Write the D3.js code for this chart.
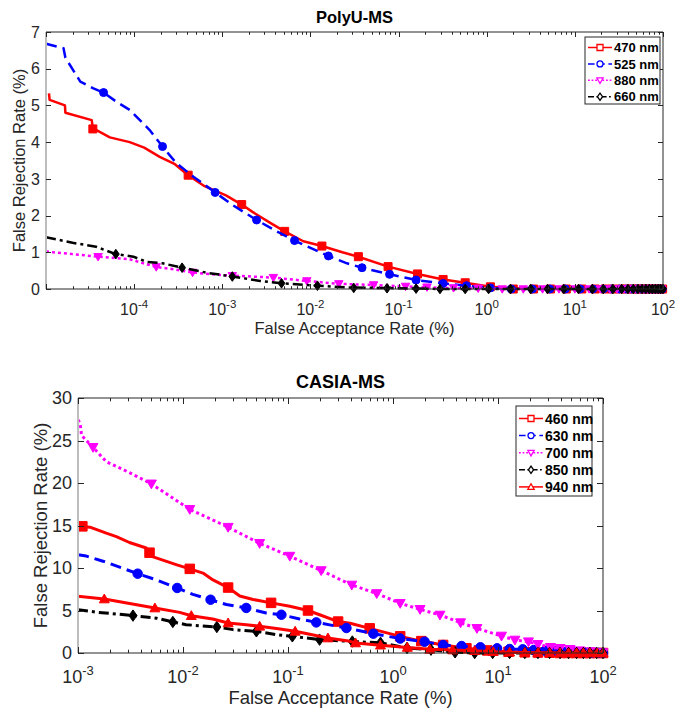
<!DOCTYPE html>
<html lang="en">
<head>
  <meta charset="UTF-8">
  <title>PolyU-MS / CASIA-MS</title>
  <style>
    body { margin: 0; background: #fff; }
    svg { display: block; font-family: "Liberation Sans", Arial, sans-serif; }
  </style>
</head>
<body>
  <script src="https://cdn.jsdelivr.net/npm/d3@7/dist/d3.min.js"></script>
  <script>
    // ---------- data: [FAR %, FRR %] ----------
    // PolyU-MS
    let polyuNames = ["470 nm", "525 nm", "880 nm", "660 nm"];
    let polyu470 = [[1.08e-5,5.33],[1.1e-5,5.15],[1.64e-5,5.0],[1.66e-5,4.8],[3.3e-5,4.6],[3.4e-5,4.38],[5.3e-5,4.13],[8.9e-5,4.0],[1.3e-4,3.85],[1.95e-4,3.6],[2.9e-4,3.4],[4.1e-4,3.1],[6.3e-4,2.8],[1.1e-3,2.55],[1.66e-3,2.3],[2.2e-3,2.1],[3.5e-3,1.8],[5.1e-3,1.57],[8.3e-3,1.3],[1.35e-2,1.17],[2.3e-2,1.0],[3.5e-2,0.88],[7.6e-2,0.61],[0.164,0.41],[0.32,0.26],[0.57,0.17],[1.1,0.06],[2,0.02],[5,0],[100,0]];
    let polyu470Marks = [[3.4e-5,4.36],[4.1e-4,3.1],[1.66e-3,2.3],[5.1e-3,1.57],[1.35e-2,1.17],[3.5e-2,0.88],[7.6e-2,0.61],[0.164,0.41],[0.32,0.26],[0.57,0.17],[1.1,0.06],[2,0],[3.4,0],[5.3,0],[8,0],[12,0],[17,0],[22,0],[27,0],[33,0],[39,0],[45,0],[51,0],[57,0],[63,0],[69,0],[75,0],[81,0],[87,0],[93,0],[99,0]];
    let polyu525 = [[1e-5,6.68],[1.58e-5,6.56],[1.66e-5,6.3],[2.45e-5,5.65],[3.4e-5,5.47],[4.5e-5,5.35],[6.3e-5,5.1],[8.9e-5,4.88],[1.5e-4,4.33],[2.1e-4,3.88],[3e-4,3.43],[4.7e-4,3.06],[8.3e-4,2.63],[1.3e-3,2.29],[2.45e-3,1.88],[4.2e-3,1.56],[6.6e-3,1.32],[1.6e-2,0.9],[2.6e-2,0.7],[3.85e-2,0.58],[7.9e-2,0.4],[0.158,0.245],[0.32,0.15],[0.59,0.09],[1.1,0.03],[2,0.01],[5,0],[100,0]];
    let polyu525Marks = [[4.5e-5,5.35],[2.1e-4,3.88],[8.3e-4,2.63],[2.45e-3,1.88],[6.6e-3,1.32],[1.6e-2,0.9],[3.85e-2,0.58],[7.9e-2,0.4],[0.158,0.245],[0.32,0.15],[0.59,0.09],[1.1,0.03],[1.9,0],[3.3,0],[5.2,0],[7.8,0],[11.5,0],[16,0],[21,0],[26,0],[32,0],[38,0],[44,0],[50,0],[56,0],[62,0],[68,0],[74,0],[80,0],[86,0],[92,0],[98,0]];
    let polyu880 = [[1e-5,1.02],[2e-5,0.95],[3.9e-5,0.88],[8.9e-5,0.81],[1.78e-4,0.6],[2.8e-4,0.54],[4.6e-4,0.45],[1e-3,0.38],[3.8e-3,0.31],[9.1e-3,0.22],[2.1e-2,0.14],[5.2e-2,0.11],[0.12,0.07],[0.3,0.03],[1,0.01],[3,0],[100,0]];
    let polyu880Marks = [[3.9e-5,0.88],[1.78e-4,0.6],[4.6e-4,0.45],[1.3e-3,0.36],[3.8e-3,0.31],[9.1e-3,0.22],[2.1e-2,0.14],[5.2e-2,0.11],[0.12,0.07],[0.21,0.05],[0.42,0.03],[0.8,0.02],[1.5,0],[2.6,0],[4.3,0],[6.6,0],[10,0],[14.5,0],[19.5,0],[25,0],[30,0],[36,0],[42,0],[48,0],[54,0],[60,0],[66,0],[72,0],[78,0],[84,0],[90,0],[96,0]];
    let polyu660 = [[1e-5,1.41],[2e-5,1.26],[3.7e-5,1.15],[6.2e-5,0.95],[9.8e-5,0.88],[1.38e-4,0.74],[2.1e-4,0.7],[3.5e-4,0.58],[6.8e-4,0.44],[1.3e-3,0.34],[2.7e-3,0.22],[4.7e-3,0.155],[1.2e-2,0.09],[2.6e-2,0.045],[0.1,0.02],[0.3,0],[100,0]];
    let polyu660Marks = [[6.2e-5,0.95],[3.5e-4,0.58],[1.3e-3,0.34],[4.7e-3,0.155],[1.2e-2,0.09],[3.1e-2,0.03],[7.4e-2,0.02],[0.158,0.01],[0.295,0],[0.57,0],[1.05,0],[1.86,0],[3.16,0],[4.9,0],[7.5,0],[11,0],[15.8,0],[21,0],[27,0],[34,0],[40,0],[46,0],[52,0],[58,0],[64,0],[70,0],[76,0],[82,0],[88,0],[94,0],[100,0]];

    // CASIA-MS
    let casiaNames = ["460 nm", "630 nm", "700 nm", "850 nm", "940 nm"];
    let casia460 = [[1e-3,14.9],[1.3e-3,14.8],[1.86e-3,14.1],[2.32e-3,13.7],[3.09e-3,13.0],[4.47e-3,12.35],[4.8e-3,11.8],[5.2e-3,11.3],[8.6e-3,10.4],[1.16e-2,9.9],[1.55e-2,9.4],[1.93e-2,8.6],[2.69e-2,7.7],[3.47e-2,6.7],[4.65e-2,6.3],[6.9e-2,5.9],[0.104,5.5],[0.155,5.0],[0.2,4.5],[0.3,3.7],[0.39,3.5],[0.6,2.9],[1.17,1.96],[1.86,1.4],[3.0,0.95],[5,0.55],[7.9,0.3],[12.6,0.15],[25,0.05],[50,0],[100,0]];
    let casia460Marks = [[1.1e-3,14.9],[4.8e-3,11.8],[1.16e-2,9.9],[2.69e-2,7.7],[6.9e-2,5.9],[0.155,5.0],[0.3,3.7],[0.6,2.9],[1.17,1.96],[1.86,1.4],[3.0,0.95],[5,0.55],[7.9,0.3],[12.6,0.15],[18,0.08],[24,0.05],[31,0.03],[39,0],[47,0],[56,0],[65,0],[75,0],[88,0],[100,0]];
    let casia630 = [[1e-3,11.55],[1.2e-3,11.4],[1.73e-3,10.8],[3.7e-3,9.33],[5.6e-3,8.6],[8.8e-3,7.65],[1.24e-2,6.9],[1.83e-2,6.27],[2.59e-2,5.7],[4e-2,5.3],[6.2e-2,4.7],[8.65e-2,4.5],[0.129,4.0],[0.186,3.6],[0.36,2.94],[0.65,2.27],[1.17,1.7],[2.0,1.33],[3.0,0.94],[4.5,0.82],[6.8,0.67],[9.8,0.55],[12.9,0.47],[17.2,0.43],[21.9,0.35],[28,0.27],[36,0.24],[45,0.16],[63,0.05],[100,0]];
    let casia630Marks = [[3.7e-3,9.33],[8.8e-3,7.65],[1.83e-2,6.27],[4e-2,5.3],[8.65e-2,4.5],[0.186,3.6],[0.36,2.94],[0.65,2.27],[1.17,1.7],[2.0,1.33],[3.0,0.94],[4.5,0.82],[6.8,0.67],[9.8,0.55],[12.9,0.47],[17.2,0.43],[21.9,0.35],[28,0.27],[36,0.24],[45,0.16],[55,0.1],[66,0.06],[78,0.03],[90,0.01],[100,0]];
    let casia700 = [[1e-3,27.45],[1.05e-3,27.0],[1.08e-3,25.6],[1.39e-3,24.2],[1.86e-3,22.5],[3e-3,21.3],[5e-3,19.9],[1.16e-2,16.9],[2.69e-2,14.8],[5.37e-2,12.9],[0.104,11.4],[0.207,9.7],[0.405,8.0],[0.7,7.0],[1.17,5.85],[1.81,5.14],[2.8,4.47],[4.4,3.57],[6.3,2.9],[10.8,2.0],[14.5,1.53],[19.5,1.33],[24,1.02],[31.6,0.67],[39,0.55],[48.5,0.43],[60,0.27],[78,0.16],[100,0.04]];
    let casia700Marks = [[1.39e-3,24.2],[5e-3,19.9],[1.16e-2,16.9],[2.69e-2,14.8],[5.37e-2,12.9],[0.104,11.4],[0.207,9.7],[0.405,8.0],[0.7,7.0],[1.17,5.85],[1.81,5.14],[2.8,4.47],[4.4,3.57],[6.3,2.9],[10.8,2.0],[14.5,1.53],[19.5,1.33],[24,1.02],[31.6,0.67],[39,0.55],[48.5,0.43],[60,0.27],[78,0.16],[100,0.04]];
    let casia850 = [[1e-3,5.1],[1.5e-3,4.8],[3.34e-3,4.4],[5.6e-3,4.1],[8e-3,3.65],[1.07e-2,3.33],[2.1e-2,3.06],[3e-2,2.75],[5e-2,2.55],[7.8e-2,2.16],[0.11,1.96],[0.15,1.76],[0.2,1.57],[0.41,1.35],[0.76,1.2],[1.36,0.59],[2.3,0.39],[3.9,0.08],[6,0],[100,0]];
    let casia850Marks = [[3.34e-3,4.4],[8e-3,3.65],[2.1e-2,3.06],[5e-2,2.55],[0.11,1.96],[0.2,1.57],[0.41,1.35],[0.76,1.2],[1.36,0.59],[2.3,0.39],[3.9,0.08],[6,0],[8.9,0],[12.9,0],[18,0],[24,0],[31,0],[39,0],[47,0],[56,0],[65,0],[75,0],[87,0],[100,0]];
    let casia940 = [[1e-3,6.67],[1.78e-3,6.35],[3.3e-3,5.76],[5.4e-3,5.29],[9.3e-3,4.78],[1.2e-2,4.39],[1.92e-2,4.0],[2.69e-2,3.53],[4e-2,3.33],[5.37e-2,3.14],[8.4e-2,2.82],[0.117,2.55],[0.24,1.76],[0.39,1.37],[0.44,1.18],[0.76,0.92],[1.37,0.65],[2.24,0.43],[3.7,0.35],[6,0.27],[9,0.16],[12.9,0.1],[18,0.06],[24,0.04],[31,0.02],[39,0],[100,0]];
    let casia940Marks = [[1.78e-3,6.35],[5.4e-3,5.29],[1.2e-2,4.39],[2.69e-2,3.53],[5.37e-2,3.14],[0.117,2.55],[0.24,1.76],[0.44,1.18],[0.76,0.92],[1.37,0.65],[2.24,0.43],[3.7,0.35],[6,0.27],[9,0.16],[12.9,0.1],[18,0.06],[24,0.04],[31,0.02],[39,0],[47,0],[56,0],[65,0],[75,0],[88,0],[100,0]];

    let polyuYTicks = [0, 1, 2, 3, 4, 5, 6, 7];
    let polyuXTicks = [-4, -3, -2, -1, 0, 1, 2];      // exponents labelled
    let casiaYTicks = [0, 5, 10, 15, 20, 25, 30];
    let casiaXTicks = [-3, -2, -1, 0, 1, 2];

    // ---------- styles ----------
    let styles = {
      red:  { color: "#ff0000", dash: null },
      blue: { color: "#0000ff", dash: "11,6" },
      mag:  { color: "#ff00ff", dash: "3,3" },
      blk:  { color: "#000000", dash: "10,4,3,4" }
    };

    let width = 686, height = 709;
    let svg = d3.select("body").append("svg")
      .attr("width", width)
      .attr("height", height);

    let axisColor = "#262626";

    function symbolPath(shape, size) {
      let s = size / 2;
      if (shape == "square") return `M${-s},${-s}H${s}V${s}H${-s}Z`;
      if (shape == "circle") return `M${-s},0A${s},${s} 0 1,0 ${s},0A${s},${s} 0 1,0 ${-s},0Z`;
      if (shape == "tdown") return `M${-s * 1.05},${-s * 0.8}H${s * 1.05}L0,${s * 1.05}Z`;
      if (shape == "tup") return `M${-s * 1.05},${s * 0.8}H${s * 1.05}L0,${-s * 1.05}Z`;
      if (shape == "diamond") return `M0,${-s * 1.2}L${s * 0.85},0L0,${s * 1.2}L${-s * 0.85},0Z`;
    }

    function drawPanel(p) {
      let x = d3.scaleLog().domain(p.xDomain).range([p.left, p.right]);
      let y = d3.scaleLinear().domain(p.yDomain).range([p.bottom, p.top]);
      let g = svg.append("g");

      // series
      let line = d3.line().x(d => x(d[0])).y(d => y(d[1]));
      p.series.forEach(s => {
        g.append("path")
          .datum(s.data)
          .attr("d", line)
          .attr("fill", "none")
          .attr("stroke", s.style.color)
          .attr("stroke-width", p.lw)
          .attr("stroke-dasharray", s.style.dash)
          .attr("stroke-linejoin", "round");
        g.selectAll(null)
          .data(s.marks)
          .enter()
          .append("path")
          .attr("transform", d => `translate(${x(d[0])},${y(d[1])})`)
          .attr("d", symbolPath(s.shape, p.ms))
          .attr("fill", s.style.color)
          .attr("stroke", s.style.color)
          .attr("stroke-width", 1);
      });

      // box
      g.append("line").attr("x1", p.left).attr("x2", p.right).attr("y1", p.top).attr("y2", p.top).attr("stroke", axisColor);
      g.append("line").attr("x1", p.right).attr("x2", p.right).attr("y1", p.top).attr("y2", p.bottom).attr("stroke", axisColor);
      g.append("line").attr("x1", p.left).attr("x2", p.right).attr("y1", p.bottom).attr("y2", p.bottom).attr("stroke", axisColor);
      g.append("line").attr("x1", p.left).attr("x2", p.left).attr("y1", p.top).attr("y2", p.bottom).attr("stroke", "#bdbdbd").attr("stroke-width", 2);

      // y ticks (inward on left and right)
      p.yTicks.forEach(v => {
        let yy = Math.round(y(v)) + 0.5;
        g.append("line").attr("x1", p.left).attr("x2", p.left + p.tick).attr("y1", yy).attr("y2", yy).attr("stroke", axisColor);
        g.append("line").attr("x1", p.right).attr("x2", p.right - p.tick).attr("y1", yy).attr("y2", yy).attr("stroke", axisColor);
        g.append("text")
          .attr("x", p.left - 6)
          .attr("y", y(v))
          .attr("dy", "0.36em")
          .attr("text-anchor", "end")
          .attr("font-size", p.tickFont)
          .attr("fill", axisColor)
          .text(v);
      });

      // x ticks: majors and minors from the log scale
      let allTicks = x.ticks();
      allTicks.forEach(v => {
        let e = Math.log10(v);
        let major = Math.abs(e - Math.round(e)) < 1e-9;
        let len = major ? p.tick : p.tick * 0.55;
        let xx = Math.round(x(v)) + 0.5;
        g.append("line").attr("x1", xx).attr("x2", xx).attr("y1", p.bottom).attr("y2", p.bottom - len).attr("stroke", axisColor);
        g.append("line").attr("x1", xx).attr("x2", xx).attr("y1", p.top).attr("y2", p.top + len).attr("stroke", axisColor);
      });
      p.xTicks.forEach(e => {
        let t = g.append("text")
          .attr("x", x(Math.pow(10, e)))
          .attr("y", p.bottom + p.xLabelDy)
          .attr("text-anchor", "middle")
          .attr("font-size", p.tickFont)
          .attr("fill", axisColor);
        t.append("tspan").text("10");
        t.append("tspan").attr("dy", -p.tickFont * 0.45).attr("font-size", p.tickFont * 0.72).text(e);
      });

      // title and axis labels
      g.append("text")
        .attr("x", (p.left + p.right) / 2)
        .attr("y", p.titleY)
        .attr("text-anchor", "middle")
        .attr("font-weight", "bold")
        .attr("font-size", p.titleFont)
        .attr("fill", "#000")
        .text(p.title);
      g.append("text")
        .attr("x", (p.left + p.right) / 2)
        .attr("y", p.xTitleY)
        .attr("text-anchor", "middle")
        .attr("font-size", p.labelFont)
        .attr("fill", axisColor)
        .text("False Acceptance Rate (%)");
      g.append("text")
        .attr("transform", `translate(${p.yTitleX},${(p.top + p.bottom) / 2}) rotate(-90)`)
        .attr("text-anchor", "middle")
        .attr("font-size", p.labelFont)
        .attr("fill", axisColor)
        .text("False Rejection Rate (%)");

      // legend
      let L = p.legend;
      g.append("rect")
        .attr("x", L.x).attr("y", L.y)
        .attr("width", L.w).attr("height", L.h)
        .attr("fill", "#fff")
        .attr("stroke", "#262626")
        .attr("stroke-width", 1);
      p.series.forEach((s, i) => {
        let ly = L.y + L.first + i * L.step;
        g.append("line")
          .attr("x1", L.x + 3).attr("x2", L.x + 3 + L.len)
          .attr("y1", ly).attr("y2", ly)
          .attr("stroke", s.style.color)
          .attr("stroke-width", 1.5)
          .attr("stroke-dasharray", s.style.dash ? s.style.dash.split(",").map(d => d * 0.6).join(",") : null);
        g.append("path")
          .attr("transform", `translate(${L.x + 3 + L.len / 2},${ly})`)
          .attr("d", symbolPath(s.shape, 6))
          .attr("fill", "#fff")
          .attr("stroke", s.style.color)
          .attr("stroke-width", 1.3);
        g.append("text")
          .attr("x", L.x + L.len + 5)
          .attr("y", ly)
          .attr("dy", "0.36em")
          .attr("font-weight", "bold")
          .attr("font-size", L.font)
          .attr("fill", "#000")
          .text(s.name);
      });
    }

    // top chart
    drawPanel({
      left: 46, right: 663, top: 32, bottom: 289,
      xDomain: [1e-5, 100], yDomain: [0, 7],
      yTicks: polyuYTicks, xTicks: polyuXTicks,
      tick: 5, tickFont: 16, xLabelDy: 26, lw: 2.5, ms: 8,
      title: "PolyU-MS", titleY: 23, titleFont: 16.5,
      xTitleY: 334, yTitleX: 25, labelFont: 16.5,
      legend: { x: 585, y: 37, w: 75, h: 67, first: 10.5, step: 16.4, len: 24, font: 13 },
      series: [
        { name: polyuNames[0], data: polyu470, marks: polyu470Marks, shape: "square", style: styles.red },
        { name: polyuNames[1], data: polyu525, marks: polyu525Marks, shape: "circle", style: styles.blue },
        { name: polyuNames[2], data: polyu880, marks: polyu880Marks, shape: "tdown", style: styles.mag },
        { name: polyuNames[3], data: polyu660, marks: polyu660Marks, shape: "diamond", style: styles.blk }
      ]
    });

    // bottom chart
    drawPanel({
      left: 78, right: 603, top: 398, bottom: 653,
      xDomain: [1e-3, 100], yDomain: [0, 30],
      yTicks: casiaYTicks, xTicks: casiaXTicks,
      tick: 6, tickFont: 18, xLabelDy: 30, lw: 3, ms: 9.5,
      title: "CASIA-MS", titleY: 388, titleFont: 18,
      xTitleY: 704, yTitleX: 47, labelFont: 18.5,
      legend: { x: 516, y: 406, w: 76, h: 90, first: 12.5, step: 17.1, len: 24, font: 14 },
      series: [
        { name: casiaNames[0], data: casia460, marks: casia460Marks, shape: "square", style: styles.red },
        { name: casiaNames[1], data: casia630, marks: casia630Marks, shape: "circle", style: styles.blue },
        { name: casiaNames[2], data: casia700, marks: casia700Marks, shape: "tdown", style: styles.mag },
        { name: casiaNames[3], data: casia850, marks: casia850Marks, shape: "diamond", style: styles.blk },
        { name: casiaNames[4], data: casia940, marks: casia940Marks, shape: "tup", style: styles.red }
      ]
    });
  </script>
</body>
</html>
